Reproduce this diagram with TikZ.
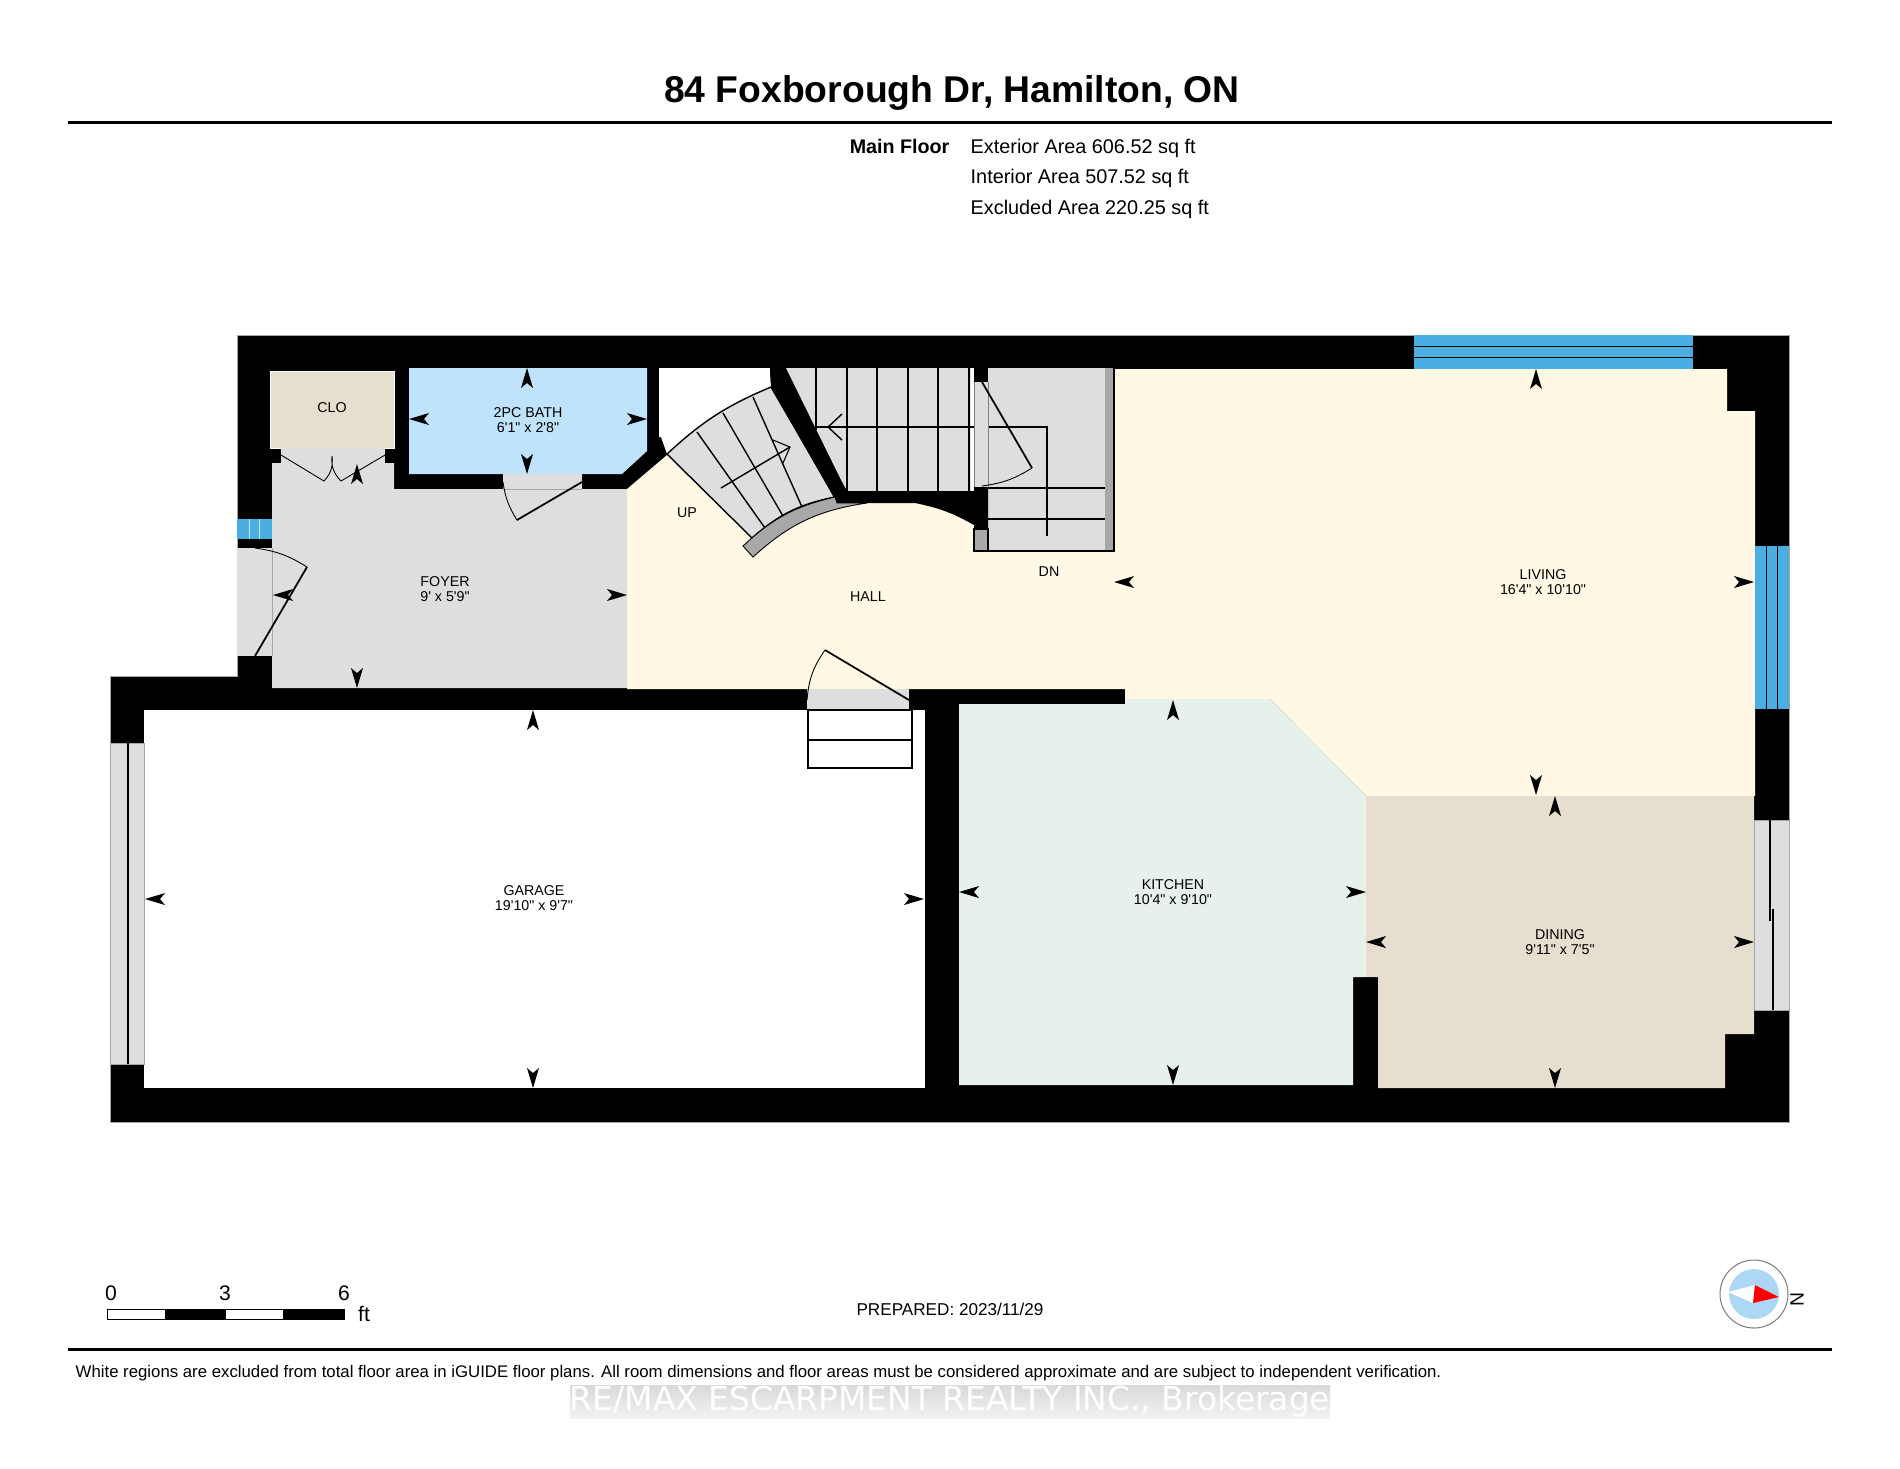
\documentclass[tikz,border=0pt]{standalone}
\usepackage{fontspec}
\setmainfont{Liberation Sans}[Ligatures=TeXOff]
\newfontfamily\markfont{DejaVu Sans}
\definecolor{hallcream}{HTML}{FFF8E4}
\definecolor{floorgray}{HTML}{DEDEDE}
\definecolor{stripgray}{HTML}{A8A8A8}
\definecolor{dinetan}{HTML}{E6DECF}
\definecolor{bathblue}{HTML}{BEE3FB}
\definecolor{kitchgreen}{HTML}{E5F1EA}
\definecolor{winblue}{HTML}{4BAEE2}
\definecolor{compassblue}{HTML}{ADD8F5}

\tikzset{
  roomlabel/.style={font=\fontsize{4.05pt}{4.3pt}\selectfont,align=center,inner sep=0pt},
  stairline/.style={line width=0.4pt},
  doorleaf/.style={line width=0.5pt},
  doorarc/.style={line width=0.25pt},
  thinedge/.style={draw=gray!70,line width=0.15pt},
  tiny/.style={font=\fontsize{6pt}{7pt}\selectfont,inner sep=0pt},
}

\begin{document}
\begin{tikzpicture}[x=0.01cm,y=-0.01cm]
\useasboundingbox (0,0) rectangle (1900,1468);
% heading
\node[font=\bfseries\fontsize{10.6pt}{12pt}\selectfont,inner sep=0pt] (title) at (952,93) {84 Foxborough Dr, Hamilton, ON};
\fill (68,120.5) rectangle (1832,123.5);
\node[font=\bfseries\fontsize{5.6pt}{6pt}\selectfont,anchor=east,inner sep=0pt] (floorname) at (950,146) {Main Floor};
\foreach \y/\t/\n in {148/Exterior Area 606.52 sq ft/ext,178.5/Interior Area 507.52 sq ft/int,209/Excluded Area 220.25 sq ft/exc}
  \node[font=\fontsize{5.64pt}{6pt}\selectfont,anchor=west,inner sep=0pt] (\n) at (970,\y) {\t};

% walls first, the rooms are laid over them
\filldraw[thinedge,fill=black] (237,335) -- (1789,335) -- (1789,1122) -- (110,1122) -- (110,676) -- (237,676) -- cycle;
\fill[white] (144,710) rectangle (925,1088);
\fill[white] (659,368) -- (770,368) -- (771,387) to[bend right=10] (667,454) -- (661,437) -- (659,437) -- cycle;

\fill[hallcream] (627,489) -- (667,455) -- (837,491) -- (974,491) -- (974,551) -- (1114,551) -- (1114,369) -- (1727,369) -- (1727,411) -- (1755,411) -- (1755,796) -- (1366,796) -- (1270,699) -- (1125,699) -- (1125,689) -- (627,689) -- cycle;
\fill[kitchgreen] (959,704) -- (1125,704) -- (1125,699) -- (1270,699) -- (1366,796) -- (1366,977) -- (1353,977) -- (1353,1085) -- (959,1085) -- cycle;
\fill[dinetan] (1366,796) -- (1754,796) -- (1754,1034) -- (1725,1034) -- (1725,1088) -- (1378,1088) -- (1378,977) -- (1366,977) -- cycle;
\fill[floorgray] (272,463) -- (394,463) -- (394,489) -- (627,489) -- (627,688) -- (272,688) -- cycle;
\filldraw[fill=dinetan,draw=white,line width=0.2pt] (270,371) rectangle (394,448);
\fill[bathblue] (409,368) -- (647,368) -- (647,451) -- (622,474) -- (409,474) -- cycle;

% door sills
\fill[floorgray] (281,448) rectangle (385,463);
\fill[floorgray] (503,474) rectangle (582,489);
\fill[floorgray] (237,548) rectangle (272,656);
\fill[floorgray] (807,689) rectangle (909,710);
\draw[thinedge] (272,548) -- (272,656);
\draw[thinedge] (503,489) -- (582,489);

% windows
\fill[winblue] (237,519) rectangle (272,539);
\foreach \x in {249,259} \draw[white!70!winblue,line width=0.25pt] (\x,519) -- (\x,539);
\fill[winblue] (1414,335) rectangle (1693,369);
\foreach \y in {346,357} \draw[line width=0.25pt] (1414,\y) -- (1693,\y);
\fill[winblue] (1755,546) rectangle (1789,709);
\foreach \x in {1766,1777} \draw[line width=0.25pt] (\x,546) -- (\x,709);
\filldraw[fill=floorgray,draw=gray!70,line width=0.15pt] (110,743) rectangle (144,1064);
\draw[line width=0.6pt] (128,743) -- (128,1064);
\filldraw[fill=floorgray,draw=gray!70,line width=0.15pt] (1754,820) rectangle (1789,1010);
\draw[line width=0.4pt] (1770,820) -- (1770,921);
\draw[line width=0.4pt] (1773,909) -- (1773,1010);

% stairs going up
\filldraw[fill=floorgray,stairline] (667,454) to[bend left=10] (771,387) -- (835,497) to[bend right=15] (752,538) -- cycle;
\foreach \ax/\ay/\bx/\by in {697/432/765/528,723/413/783/516,753/397/802/507}
  \draw[stairline] (\ax,\ay) -- (\bx,\by);
\draw[stairline] (721,488) -- (790,447);
\draw[line width=0.3pt] (773,440) -- (790,447) -- (783,463);

% stairs going down
\fill[floorgray] (786,368) -- (974,368) -- (974,492) -- (847,492) -- cycle;
\fill[floorgray] (988,368) rectangle (1105,551);
\fill[stripgray] (1105,368) rectangle (1114,551);
\foreach \x in {847,877,908,938,969} \draw[stairline] (\x,368) -- (\x,491);
\draw[stairline] (816,368) -- (816,430);
\fill[white] (971,368) rectangle (974,492);
\foreach \y in {488,519,551} \draw[stairline] (988,\y) -- (1105,\y);
\filldraw[fill=stripgray,stairline] (974,529) rectangle (988,551);
\draw[stairline] (1105,551) -- (1114,551) -- (1114,368);
\draw[stairline] (1047,536) -- (1047,427) -- (816,427);
\draw[stairline] (842,414) -- (828,427) -- (842,440);

% the wall round both flights
\fill (770,368) -- (786,368) -- (786,385) -- (847,491) -- (974,491) -- (974,487) -- (988,487) -- (988,529) -- (974,529) -- (974,525) to[bend right=9] (915,503) -- (837,503) -- (771,387) -- cycle;
\filldraw[fill=stripgray,line width=0.25pt] (743,546) to[bend left=15] (835,497) -- (837,503) -- (867,503) to[bend right=17] (753,557) -- cycle;
\fill (974,368) rectangle (988,382);
\fill[floorgray] (974,382) rectangle (988,487);
\draw[gray,line width=0.15pt] (974,382) -- (974,487) (988,382) -- (988,487);

% doors
\draw[doorleaf] (255,656) -- (307,567);
\draw[doorarc] (307,567) to[bend right=12] (255,548);
\draw[doorarc] (281,455) -- (324,481) to[bend right=25] (332,456) to[bend right=25] (341,481) -- (385,455);
\draw[doorleaf] (582,482) -- (517,520);
\draw[doorarc] (517,520) to[bend left=12] (503,482);
\draw[doorleaf] (982,382) -- (1032,468);
\draw[doorarc] (1032,468) to[bend left=12] (982,486);
\draw[doorleaf] (909,700) -- (825,650);
\draw[doorarc] (825,650) to[bend right=15] (807,700);
\filldraw[fill=white,stairline] (808,710) rectangle (912,768);
\draw[stairline] (808,740) -- (912,740);

% dimension tips
\foreach \x/\y/\a in {527/368/90,527/474/-90,409/419/180,647/419/0,357/464/90,357/688/-90,273/595/180,627/595/0,
  1114/582/180,1754/582/0,1536/369/90,1536/795/-90,1555/796/90,1555/1088/-90,1366/942/180,1754/942/0,
  1366/892/0,959/892/180,1173/700/90,1173/1085/-90,145/899/180,924/899/0,533/710/90,533/1088/-90}
  \fill[shift={(\x,\y)},rotate=\a] (0,0) -- (-20,6) -- (-15,0) -- (-20,-6) -- cycle;

% room names
\node[roomlabel] (clo) at (332,408) {CLO};
\node[roomlabel] (bath) at (528,420) {2PC BATH\\6'1" x 2'8"};
\node[roomlabel] (foyer) at (445,589) {FOYER\\9' x 5'9"};
\node[roomlabel] (up) at (687,513) {UP};
\node[roomlabel] (hall) at (868,597) {HALL};
\node[roomlabel] (down) at (1049,572) {DN};
\node[roomlabel] (living) at (1543,582) {LIVING\\16'4" x 10'10"};
\node[roomlabel] (dining) at (1560,942) {DINING\\9'11" x 7'5"};
\node[roomlabel] (kitchen) at (1173,892) {KITCHEN\\10'4" x 9'10"};
\node[roomlabel] (garage) at (534,898) {GARAGE\\19'10" x 9'7"};

% scale bar
\filldraw[fill=white,line width=0.25pt] (107,1309) rectangle (344,1319);
\fill (165,1309) rectangle (226,1319);
\fill (283,1309) rectangle (344,1319);
\foreach \x/\t/\n in {111/0/zero,225/3/three,344/6/six}
  \node[tiny] (\n) at (\x,1293) {\t};
\node[tiny] (feet) at (364,1314) {ft};

\node[font=\fontsize{4.87pt}{6pt}\selectfont,inner sep=0pt] (prepared) at (950,1309) {PREPARED: 2023/11/29};

% compass
\draw[gray,line width=0.3pt] (1754,1294) circle[radius=34];
\fill[compassblue] (1754,1294) circle[radius=25];
\fill[white] (1728,1292) -- (1755,1285) -- (1753,1303) -- cycle;
\fill[red] (1755,1285) -- (1779,1297) -- (1753,1303) -- cycle;
\node[font=\fontsize{5.5pt}{6pt}\selectfont,rotate=-90,inner sep=0pt] (north) at (1797,1299) {N};

% footer
\fill (68,1347.5) rectangle (1832,1350.5);
\node[font=\fontsize{4.77pt}{6pt}\selectfont,anchor=west,inner sep=0pt] (note) at (75,1373.5) {White regions are excluded from total floor area in iGUIDE floor plans. All room dimensions and floor areas must be considered approximate and are subject to independent verification.};
\fill[top color=gray!30,bottom color=gray!10] (570,1385) rectangle (1330,1418);
\node[font=\markfont\fontsize{9.35pt}{10pt}\selectfont,text=white,inner sep=0pt] (brokerage) at (950,1401) {RE/MAX ESCARPMENT REALTY INC., Brokerage};
\end{tikzpicture}
\end{document}
